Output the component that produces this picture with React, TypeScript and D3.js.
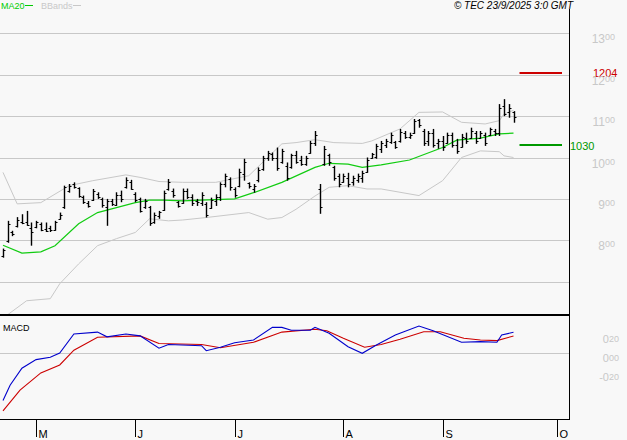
import React, { useEffect, useRef } from "react";
import * as d3 from "d3";

// daily bars, 22/4 -> 22/9
const opens = [
  762, 798, 820, 835, 845, 845, 830, 832, 840, 828, 830, 826, 852, 880, 920, 935, 926, 905, 890, 898,
  912, 900, 880, 895, 886, 910, 928, 940, 912, 900, 880, 880, 845, 858, 874, 925, 920, 892, 890, 918,
  905, 895, 890, 888, 878, 895, 905, 935, 948, 925, 930, 960, 938, 925, 945, 972, 1000, 1008, 1000, 990,
  980, 976, 1005, 995, 985, 1012, 1035, 925, 985, 1005, 978, 955, 942, 950, 940, 945, 950, 965, 1000, 1002,
  1020, 1030, 1038, 1038, 1040, 1060, 1050, 1060, 1090, 1065, 1040, 1060, 1035, 1040, 1035, 1055, 1030, 1025, 1048, 1048,
  1060, 1048, 1055, 1055, 1065, 1058, 1125, 1110, 1110,
];
const highs = [
  780, 847, 823, 856, 863, 871, 843, 847, 843, 843, 835, 847, 867, 932, 936, 940, 928, 908, 895, 924,
  916, 903, 900, 900, 916, 920, 952, 946, 916, 903, 900, 883, 867, 871, 920, 948, 925, 895, 925, 925,
  911, 900, 916, 892, 903, 911, 940, 961, 952, 928, 973, 997, 940, 936, 976, 1004, 1016, 1012, 1024, 1021,
  988, 1009, 1016, 1004, 1004, 1040, 1064, 936, 1028, 1009, 980, 961, 961, 963, 956, 961, 968, 1000, 1011, 1033,
  1040, 1045, 1060, 1040, 1069, 1064, 1060, 1093, 1093, 1069, 1064, 1069, 1045, 1052, 1060, 1060, 1045, 1057, 1060, 1072,
  1064, 1064, 1060, 1072, 1069, 1129, 1141, 1129, 1112,
];
const lows = [
  758, 794, 810, 831, 839, 835, 787, 829, 822, 820, 820, 823, 850, 876, 915, 925, 903, 888, 879, 895,
  900, 879, 835, 883, 883, 892, 925, 922, 892, 867, 876, 835, 840, 852, 871, 920, 903, 879, 888, 900,
  883, 883, 883, 855, 876, 883, 895, 928, 920, 903, 928, 944, 925, 915, 940, 968, 992, 992, 968, 985,
  944, 973, 985, 980, 980, 1009, 1028, 864, 980, 980, 944, 928, 939, 928, 932, 939, 939, 963, 997, 997,
  1011, 1023, 1033, 1021, 1036, 1045, 1045, 1057, 1072, 1028, 1028, 1024, 1021, 1016, 1033, 1024, 1009, 1024, 1033, 1045,
  1033, 1045, 1028, 1052, 1052, 1052, 1100, 1096, 1084,
];
const closes = [
  776, 840, 815, 850, 842, 838, 820, 843, 826, 823, 825, 845, 862, 928, 932, 928, 908, 892, 884, 918,
  905, 885, 895, 888, 910, 900, 945, 925, 898, 870, 895, 842, 862, 868, 915, 940, 910, 884, 920, 905,
  890, 892, 910, 860, 898, 905, 935, 955, 928, 910, 965, 990, 930, 930, 970, 998, 1010, 998, 975, 1015,
  950, 1005, 990, 985, 1000, 1035, 1055, 880, 1020, 990, 950, 935, 955, 935, 950, 955, 962, 995, 1008, 1028,
  1035, 1040, 1055, 1025, 1062, 1050, 1055, 1088, 1078, 1035, 1058, 1030, 1040, 1025, 1055, 1030, 1015, 1050, 1040, 1065,
  1040, 1060, 1035, 1068, 1058, 1120, 1105, 1120, 1098,
];

// indicator samples: [bar index, value]
const ma20: [number, number][] = [
  [0, 788], [4, 769], [8, 772], [11, 787], [16, 840], [20, 867], [24, 879], [28, 891], [31, 897], [34, 897],
  [38, 895], [42, 897], [49, 900], [53, 915], [59, 940], [66, 976], [69, 986], [73, 984], [76, 976], [80, 982],
  [86, 994], [93, 1024], [96, 1042], [101, 1047], [105, 1057], [108, 1059],
];
const bbUpper: [number, number][] = [
  [0, 964], [3, 888], [8, 891], [14, 932], [19, 944], [26, 958], [29, 952], [33, 942], [38, 940], [45, 940],
  [52, 956], [59, 1033], [62, 1036], [66, 1043], [70, 1036], [76, 1034], [78, 1040], [84, 1069], [88, 1109],
  [93, 1110], [97, 1085], [102, 1081], [105, 1089], [106, 1105], [108, 1114],
];
const bbLower: [number, number][] = [
  [0, 612], [5, 654], [10, 659], [12, 695], [16, 743], [20, 787], [24, 804], [28, 819], [31, 852], [35, 847],
  [38, 849], [43, 855], [52, 867], [56, 851], [59, 855], [62, 875], [66, 907], [69, 928], [73, 932], [77, 924],
  [80, 924], [88, 908], [93, 944], [97, 1000], [101, 1016], [105, 1014], [106, 1004], [108, 1000],
];
const macdLine: [number, number][] = [
  [0, -0.5], [1.5, -0.34], [4, -0.16], [7, -0.07], [10, -0.045], [12, 0.0], [15, 0.2], [20, 0.22], [22, 0.17],
  [26, 0.2], [29, 0.18], [33, 0.05], [35, 0.09], [42, 0.077], [43, 0.024], [46, 0.06], [49, 0.108], [53, 0.137],
  [57, 0.27], [59, 0.27], [61, 0.24], [65, 0.24], [66, 0.27], [69, 0.207], [73, 0.066], [76, -0.003], [79, 0.084],
  [83, 0.19], [88, 0.284], [91, 0.235], [97, 0.113], [101, 0.12], [104.5, 0.113], [105.5, 0.19], [108, 0.218],
];
const signalLine: [number, number][] = [
  [0, -0.61], [3.6, -0.39], [8, -0.21], [12, -0.126], [15, 0.03], [20, 0.165], [29, 0.18], [33, 0.1], [42, 0.09],
  [46, 0.056], [53, 0.113], [59, 0.22], [66, 0.25], [68.5, 0.235], [72, 0.155], [76.5, 0.06], [80, 0.09],
  [84, 0.144], [89, 0.224], [92.5, 0.224], [97.5, 0.155], [101, 0.137], [104.5, 0.13], [108, 0.179],
];

const monthLabels = ["M", "J", "J", "A", "S", "O"];
const monthIdx = [7, 28, 49, 72, 93, 117.3];
const gridPrices = [700, 800, 900, 1000, 1100, 1200, 1300];
const priceLabels = [800, 900, 1000, 1100, 1200, 1300];
const macdLabels = [0.2, 0, -0.2];
const levels = [
  { value: 1204, color: "#cc0000" },
  { value: 1030, color: "#009900" },
];

const FONT = "'Liberation Sans', Arial, sans-serif";
const GRID = "#c8c8c8";

const App: React.FC = () => {
  const svgRef = useRef<SVGSVGElement | null>(null);

  useEffect(() => {
    if (!svgRef.current) return;
    const svg = d3.select(svgRef.current);
    svg.selectAll("*").remove();

    const width = 627;
    const height = 440;
    const plotRight = 569;
    const priceBottom = 315;
    const macdBottom = 419;

    svg.append("rect").attr("width", width).attr("height", height).attr("fill", "#f8f8f8");

    const x = d3.scaleLinear().domain([0, 108]).range([3, 513.5]);
    const y = d3.scaleLinear().domain([700, 1300]).range([281.7, 33.3]);
    const ym = d3.scaleLinear().domain([-0.2, 0.2]).range([372, 334]);

    // grid
    svg
      .selectAll(".grid")
      .data(gridPrices)
      .join("line")
      .attr("x1", 0)
      .attr("x2", plotRight)
      .attr("y1", (d) => Math.round(y(d)) + 0.5)
      .attr("y2", (d) => Math.round(y(d)) + 0.5)
      .attr("stroke", GRID);

    const clip = svg.append("defs").append("clipPath").attr("id", "price-clip");
    clip.append("rect").attr("x", 0).attr("y", 0).attr("width", plotRight).attr("height", priceBottom - 1);

    const g = svg.append("g").attr("clip-path", "url(#price-clip)");

    const line = d3
      .line<[number, number]>()
      .x((d) => x(d[0]))
      .y((d) => y(d[1]));

    g.append("path").datum(bbUpper).attr("d", line).attr("fill", "none").attr("stroke", GRID);
    g.append("path").datum(bbLower).attr("d", line).attr("fill", "none").attr("stroke", GRID);
    g.append("path").datum(ma20).attr("d", line).attr("fill", "none").attr("stroke", "#11cc11").attr("stroke-width", 1.2);

    // OHLC bars
    const bars = g.selectAll(".bar").data(d3.range(closes.length)).join("g");
    bars
      .append("line")
      .attr("x1", (i) => Math.round(x(i)) + 0.5)
      .attr("x2", (i) => Math.round(x(i)) + 0.5)
      .attr("y1", (i) => y(highs[i]))
      .attr("y2", (i) => y(lows[i]))
      .attr("stroke", "#000")
      .attr("stroke-width", 1.4);
    bars
      .append("line")
      .attr("x1", (i) => Math.round(x(i)) - 1.5)
      .attr("x2", (i) => Math.round(x(i)) + 0.5)
      .attr("y1", (i) => Math.round(y(opens[i])) + 0.5)
      .attr("y2", (i) => Math.round(y(opens[i])) + 0.5)
      .attr("stroke", "#000");
    bars
      .append("line")
      .attr("x1", (i) => Math.round(x(i)) + 0.5)
      .attr("x2", (i) => Math.round(x(i)) + 2.5)
      .attr("y1", (i) => Math.round(y(closes[i])) + 0.5)
      .attr("y2", (i) => Math.round(y(closes[i])) + 0.5)
      .attr("stroke", "#000");

    // level lines
    const levelStart = x(closes.length - 1) + 6;
    levels.forEach((lv) => {
      svg
        .append("line")
        .attr("x1", levelStart)
        .attr("x2", plotRight - 7)
        .attr("y1", y(lv.value))
        .attr("y2", y(lv.value))
        .attr("stroke", lv.color)
        .attr("stroke-width", 2);
    });
    svg
      .append("text")
      .attr("x", 593)
      .attr("y", y(levels[0].value) + 4)
      .attr("fill", levels[0].color)
      .attr("font-family", FONT)
      .attr("font-size", 11)
      .text(String(levels[0].value));
    svg
      .append("text")
      .attr("x", plotRight + 1)
      .attr("y", y(levels[1].value) + 5)
      .attr("fill", levels[1].color)
      .attr("font-family", FONT)
      .attr("font-size", 11)
      .text(String(levels[1].value));

    // price axis labels
    const pl = svg
      .selectAll(".plabel")
      .data(priceLabels)
      .join("text")
      .attr("x", 615)
      .attr("y", (d) => y(d) + 10)
      .attr("text-anchor", "end")
      .attr("fill", GRID)
      .attr("font-family", FONT)
      .attr("font-size", 12);
    pl.append("tspan").text((d) => String(Math.floor(d / 100)));
    pl.append("tspan").attr("font-size", 9).attr("dy", -3).text("00");

    // MACD panel
    svg
      .append("line")
      .attr("x1", 0)
      .attr("x2", plotRight)
      .attr("y1", Math.round(ym(0)) + 0.5)
      .attr("y2", Math.round(ym(0)) + 0.5)
      .attr("stroke", GRID);

    const mline = d3
      .line<[number, number]>()
      .x((d) => x(d[0]))
      .y((d) => ym(d[1]));
    svg.append("path").datum(signalLine).attr("d", mline).attr("fill", "none").attr("stroke", "#cc0000").attr("stroke-width", 1.1);
    svg.append("path").datum(macdLine).attr("d", mline).attr("fill", "none").attr("stroke", "#0000cc").attr("stroke-width", 1.1);

    const ml = svg
      .selectAll(".mlabel")
      .data(macdLabels)
      .join("text")
      .attr("x", 619)
      .attr("y", (d) => ym(d) + 9)
      .attr("text-anchor", "end")
      .attr("fill", GRID)
      .attr("font-family", FONT)
      .attr("font-size", 11);
    ml.append("tspan").text((d) => (d < 0 ? "-0" : "0"));
    ml.append("tspan").attr("font-size", 9).attr("dy", -1).text((d) => d3.format("02d")(Math.round(Math.abs(d) * 100)));

    svg
      .append("text")
      .attr("x", 3)
      .attr("y", 331)
      .attr("font-family", FONT)
      .attr("font-size", 9)
      .text("MACD");

    // frame
    svg
      .append("line")
      .attr("x1", 0)
      .attr("x2", plotRight)
      .attr("y1", priceBottom)
      .attr("y2", priceBottom)
      .attr("stroke", "#000")
      .attr("stroke-width", 2);
    svg
      .append("line")
      .attr("x1", 0)
      .attr("x2", plotRight + 1)
      .attr("y1", macdBottom + 0.5)
      .attr("y2", macdBottom + 0.5)
      .attr("stroke", "#000");
    svg
      .append("line")
      .attr("x1", plotRight + 0.5)
      .attr("x2", plotRight + 0.5)
      .attr("y1", 9)
      .attr("y2", macdBottom + 1)
      .attr("stroke", "#000");

    // month ticks
    monthIdx.forEach((m, i) => {
      const mx = Math.round(x(m)) + 0.5;
      svg.append("line").attr("x1", mx).attr("x2", mx).attr("y1", macdBottom).attr("y2", 437).attr("stroke", "#000");
      svg
        .append("text")
        .attr("x", mx + 2)
        .attr("y", 438)
        .attr("font-family", FONT)
        .attr("font-size", 11)
        .text(monthLabels[i]);
    });

    // legend
    svg.append("text").attr("x", 1).attr("y", 9).attr("font-family", FONT).attr("font-size", 9).attr("fill", "#00cc00").text("MA20");
    svg.append("line").attr("x1", 25).attr("x2", 33).attr("y1", 5.5).attr("y2", 5.5).attr("stroke", "#00cc00");
    svg.append("text").attr("x", 41).attr("y", 9).attr("font-family", FONT).attr("font-size", 9).attr("fill", GRID).text("BBands");
    svg.append("line").attr("x1", 73).attr("x2", 81).attr("y1", 5.5).attr("y2", 5.5).attr("stroke", GRID);

    svg
      .append("text")
      .attr("x", 573)
      .attr("y", 9)
      .attr("text-anchor", "end")
      .attr("font-family", FONT)
      .attr("font-size", 10)
      .attr("font-style", "italic")
      .text("© TEC 23/9/2025 3:0 GMT");
  }, []);

  return (
    <svg
      ref={svgRef}
      width={627}
      height={440}
      style={{ position: "absolute", left: 0, top: 0, display: "block" }}
    />
  );
};

export default App;
